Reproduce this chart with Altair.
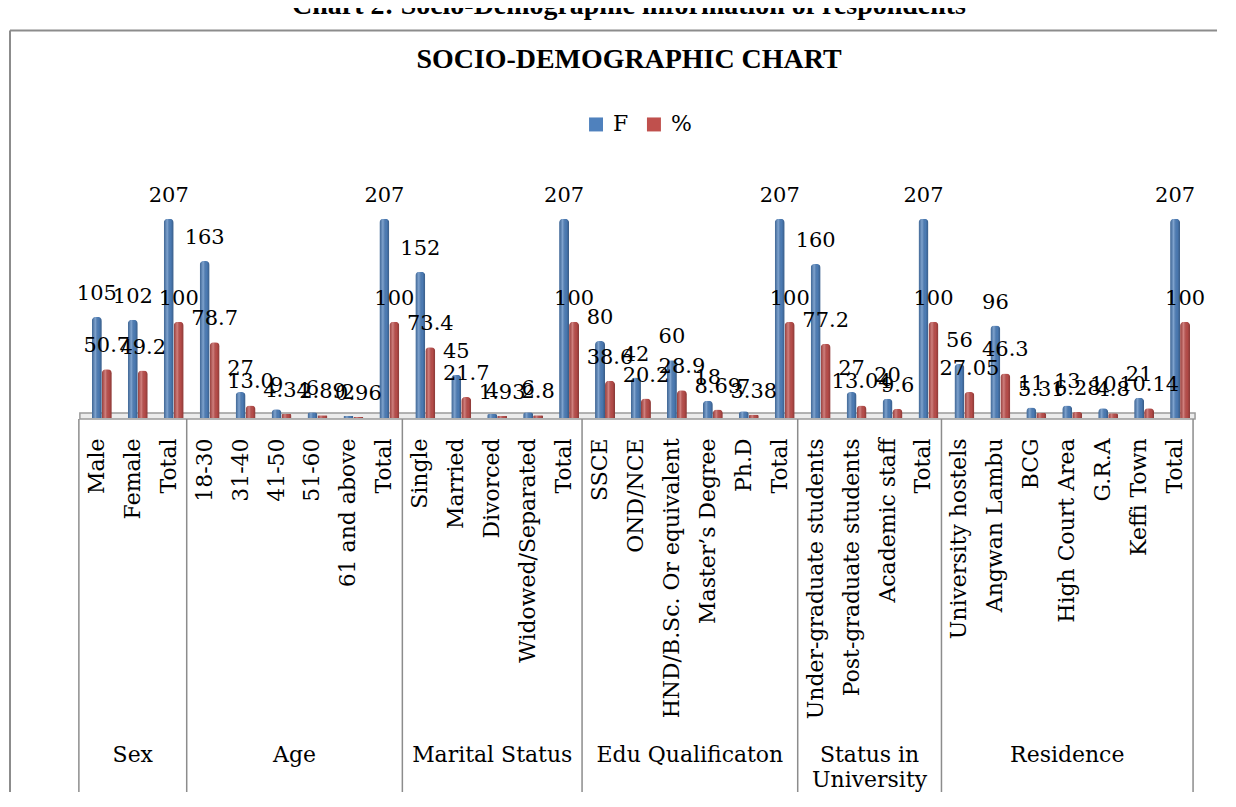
import altair as alt
import pandas as pd

# ---------------- data ----------------
groups = ["Sex", "Age", "Marital Status", "Edu Qualificaton", "Status in\nUniversity", "Residence"]

sex_cats = ["Male", "Female", "Total"]
sex_f = [105, 102, 207]
sex_pct = ["50.7", "49.2", "100"]

age_cats = ["18-30", "31-40", "41-50", "51-60", "61 and above", "Total"]
age_f = [163, 27, 9, 6, 2, 207]
age_pct = ["78.7", "13.0", "4.34", "2.89", "0.96", "100"]

marital_cats = ["Single", "Married", "Divorced", "Widowed/Separated", "Total"]
marital_f = [152, 45, 4, 6, 207]
marital_pct = ["73.4", "21.7", "1.93", "2.8", "100"]

edu_cats = ["SSCE", "OND/NCE", "HND/B.Sc. Or equivalent", "Master\u2019s Degree", "Ph.D", "Total"]
edu_f = [80, 42, 60, 18, 7, 207]
edu_pct = ["38.6", "20.2", "28.9", "8.69", "3.38", "100"]

status_cats = ["Under-graduate students", "Post-graduate students", "Academic staff", "Total"]
status_f = [160, 27, 20, 207]
status_pct = ["77.2", "13.04", "9.6", "100"]

res_cats = ["University hostels", "Angwan Lambu", "BCG", "High Court Area", "G.R.A", "Keffi Town", "Total"]
res_f = [56, 96, 11, 13, 10, 21, 207]
res_pct = ["27.05", "46.3", "5.31", "6.28", "4.8", "10.14", "100"]

series_names = ["F", "%"]
series_colors = ["#4F81BD", "#C0504D"]

main_title = "SOCIO-DEMOGRAPHIC CHART"
doc_title = "Chart 2: Socio-Demographic information of respondents"

# ---------------- build tables ----------------
all_cats = [sex_cats, age_cats, marital_cats, edu_cats, status_cats, res_cats]
all_f = [sex_f, age_f, marital_f, edu_f, status_f, res_f]
all_pct = [sex_pct, age_pct, marital_pct, edu_pct, status_pct, res_pct]

rows = []
order = []
group_rows = []
bounds = [0]
start = 0
for gi, (g, cats, fs, ps) in enumerate(zip(groups, all_cats, all_f, all_pct)):
    for c, fv, pv in zip(cats, fs, ps):
        key = f"{gi}|{c}"
        order.append(key)
        rows.append({"key": key, "series": "F", "value": fv, "label": str(fv)})
        rows.append({"key": key, "series": "%", "value": float(pv), "label": pv})
    n = len(cats)
    group_rows.append({"group": g, "center": start + n / 2})
    start += n
    bounds.append(start)

df = pd.DataFrame(rows)
gdf = pd.DataFrame(group_rows)
bdf = pd.DataFrame({"b": bounds})
ncat = len(order)

W = 36 * ncat
H = 270
serif = "DejaVu Serif"

xenc = alt.X("key:N", sort=order,
             scale=alt.Scale(paddingInner=0, paddingOuter=0),
             axis=alt.Axis(title=None, labelAngle=-90, labelAlign="right", labelBaseline="middle",
                           labelExpr="split(datum.label, '|')[1]",
                           labelFont=serif, labelFontSize=22, labelColor="black",
                           labelLimit=500, labelOverlap=False, labelBound=False,
                           ticks=False, tickSize=0, domain=False, grid=False, labelPadding=20))
xoff = alt.XOffset("series:N", sort=series_names,
                   scale=alt.Scale(domain=series_names, paddingInner=0, paddingOuter=0.8, align=0.8125))
yenc = alt.Y("value:Q", scale=alt.Scale(domain=[0, 278]), axis=None)

base = alt.Chart(df)

floor = alt.Chart(pd.DataFrame({"a": [0]})).mark_rect(
    fill="#ececec", stroke="#9a9a9a", strokeWidth=1.5
).encode(x=alt.value(1), x2=alt.value(W + 2), y=alt.value(H - 5), y2=alt.value(H + 1))

bars = base.mark_bar(cornerRadiusTopLeft=4, cornerRadiusTopRight=4).encode(
    x=xenc, xOffset=xoff, y=yenc,
    color=alt.Color("series:N", sort=series_names,
                    scale=alt.Scale(domain=series_names, range=series_colors),
                    legend=alt.Legend(title=None, orient="none", legendX=507, legendY=-35,
                                      direction="horizontal", symbolType="square", symbolSize=196,
                                      symbolStrokeWidth=0, labelFont=serif, labelFontSize=22,
                                      labelColor="black", labelOffset=6, columnPadding=14))
)

shade = alt.Gradient(
    gradient="linear", x1=0, x2=1, y1=0, y2=0,
    stops=[alt.GradientStop(color="rgba(0,0,0,0.22)", offset=0),
           alt.GradientStop(color="rgba(255,255,255,0.28)", offset=0.35),
           alt.GradientStop(color="rgba(0,0,0,0.05)", offset=0.7),
           alt.GradientStop(color="rgba(0,0,0,0.3)", offset=1)])
overlay = base.mark_bar(cornerRadiusTopLeft=4, cornerRadiusTopRight=4, fill=shade).encode(
    x=alt.X("key:N", sort=order), xOffset=alt.XOffset("series:N", sort=series_names), y=alt.Y("value:Q")
)

texts = base.mark_text(font=serif, fontSize=21, baseline="alphabetic", align="center",
                       dy=-17, color="black").encode(
    x=alt.X("key:N", sort=order), xOffset=alt.XOffset("series:N", sort=series_names),
    y=alt.Y("value:Q"), text="label:N"
)

inner = alt.layer(floor, bars, overlay, texts)

xq = alt.X("b:Q", scale=alt.Scale(domain=[0, ncat]), axis=None)
dividers = alt.Chart(bdf).mark_rule(color="#8c8c8c", strokeWidth=1.5).encode(
    x=xq, y=alt.value(H + 1), y2=alt.value(720)
)
glabels = alt.Chart(gdf).mark_text(font=serif, fontSize=22, baseline="top", align="center",
                                   lineBreak="\n", lineHeight=25, color="black").encode(
    x=alt.X("center:Q", scale=alt.Scale(domain=[0, ncat]), axis=None),
    y=alt.value(598), text="group:N"
)

one = pd.DataFrame({"a": [0]})
border_top = alt.Chart(one).mark_rule(color="#8c8c8c", strokeWidth=2).encode(
    x=alt.value(-69), x2=alt.value(1140), y=alt.value(-118))
border_left = alt.Chart(one).mark_rule(color="#8c8c8c", strokeWidth=2).encode(
    x=alt.value(-69), y=alt.value(-118), y2=alt.value(700))

title1 = alt.Chart(pd.DataFrame({"t": [main_title]})).mark_text(
    font="Liberation Serif", fontWeight="bold", fontSize=28, align="center", baseline="alphabetic",
    color="black").encode(x=alt.value(551), y=alt.value(-81), text="t:N")

title0 = alt.Chart(pd.DataFrame({"t": [doc_title]})).mark_text(
    font="Liberation Serif", fontWeight="bold", fontSize=28, align="center", baseline="alphabetic",
    color="black").encode(x=alt.value(551), y=alt.value(-135), text="t:N")

chart = alt.layer(border_top, border_left, title0, title1, inner, dividers, glabels).resolve_scale(
    x="independent"
).properties(
    width=W, height=H,
    autosize=alt.AutoSizeParams(type="none"),
    padding={"left": 71, "top": 140, "right": 35, "bottom": 374},
    background="white",
).configure_view(strokeOpacity=0)

chart.save("out.html", embed_options={"renderer": "svg", "actions": False})
